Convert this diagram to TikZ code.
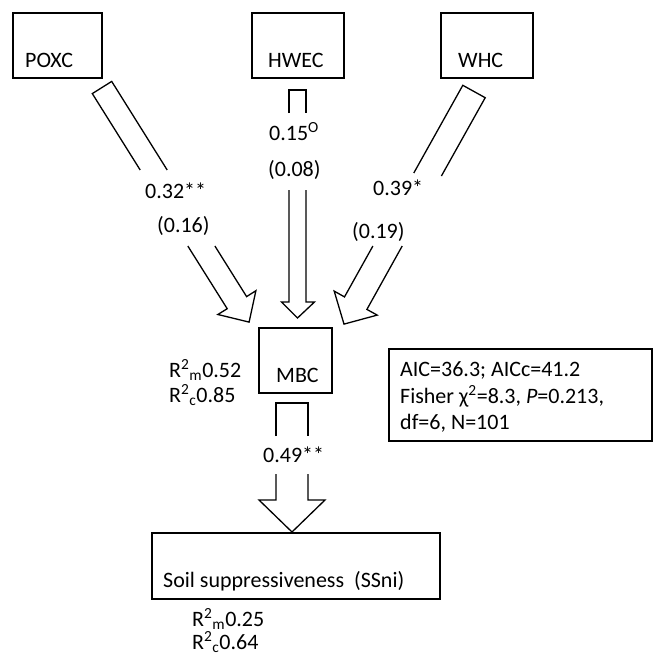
\documentclass[tikz,border=0pt]{standalone}
\usepackage{fontspec}
\setmainfont{Carlito}
\begin{document}
\begin{tikzpicture}[x=1pt,y=-1pt,
  box/.style={draw,line width=1.3pt,inner sep=0pt},
  lbl/.style={anchor=base west,inner sep=0pt,font=\fontsize{22}{26}\selectfont},
  arr/.style={draw,line width=1.3pt,line join=miter}]
\useasboundingbox (0,0) rectangle (654,657);
% boxes
\draw[box] (13,13) rectangle (102,78);
\node[box,draw=none,minimum width=89pt,minimum height=65pt] (poxc) at (57.5,45.5) {};
\node[lbl] (poxct) at (25,67) {POXC};
\draw[box] (252,13) rectangle (344,78);
\node[box,draw=none,minimum width=92pt,minimum height=65pt] (hwec) at (298,45.5) {};
\node[lbl] (hwect) at (268,67) {HWEC};
\draw[box] (441,13) rectangle (533,78);
\node[box,draw=none,minimum width=92pt,minimum height=65pt] (whc) at (487,45.5) {};
\node[lbl] (whct) at (458,67) {WHC};
\draw[box] (259,328) rectangle (332,393);
\node[box,draw=none,minimum width=73pt,minimum height=65pt] (mbc) at (295.5,360.5) {};
\node[lbl] (mbct) at (276,382) {MBC};
\draw[box] (152,533) rectangle (440,599);
\node[box,draw=none,minimum width=288pt,minimum height=66pt] (ss) at (296,566) {};
\node[lbl] (sst) at (163,587) {Soil suppressiveness\ \ (SSni)};
\draw[box] (389,349) rectangle (652,441);
\node[lbl] (st1) at (400,376) {AIC=36.3; AICc=41.2};
\node[lbl] (st2) at (400,403) {Fisher χ\textsuperscript{2}=8.3, \textit{P}=0.213,};
\node[lbl] (st3) at (400,429) {df=6, N=101};
% R2 labels
\node[lbl] (r1) at (169,377) {R\textsuperscript{2}\textsubscript{m}0.52};
\node[lbl] (r2) at (169,402) {R\textsuperscript{2}\textsubscript{c}0.85};
\node[lbl] (r3) at (192,626) {R\textsuperscript{2}\textsubscript{m}0.25};
\node[lbl] (r4) at (192,649) {R\textsuperscript{2}\textsubscript{c}0.64};
% coefficient labels
\node[lbl] (c1) at (145,198) {0.32**};
\node[lbl] (c1s) at (157,232) {(0.16)};
\node[lbl] (c2) at (269,140) {0.15\textsuperscript{O}};
\node[lbl] (c2s) at (268,176) {(0.08)};
\node[lbl] (c3) at (373,195) {0.39*};
\node[lbl] (c3s) at (352,238) {(0.19)};
\node[lbl] (c4) at (263,462) {0.49**};
% block arrows (outlines, interrupted by the coefficient labels)
% POXC -> MBC
\draw[arr] (140.2,170) -- (92.3,93.6) -- (111.7,81.4) -- (167.2,170);
\draw[arr] (187.8,246) -- (227.2,308.7) -- (217.9,314.5) -- (249.1,322.1) -- (255.9,290.7) -- (246.6,296.6) -- (214.9,246);
% HWEC -> MBC
\draw[arr] (289,113) -- (289,90) -- (306,90) -- (306,113);
\draw[arr] (289,190) -- (289,302) -- (281.5,302) -- (297.5,318) -- (314.5,302) -- (306,302) -- (306,190);
% WHC -> MBC
\draw[arr] (413.8,173) -- (462.8,85.3) -- (485.2,97.7) -- (441.4,176);
\draw[arr] (372.9,246) -- (344.5,296.9) -- (334.2,291.1) -- (344.0,324.1) -- (377.2,315.1) -- (366.9,309.4) -- (402.2,246);
% MBC -> SSni
\draw[arr] (276,436) -- (276,403) -- (308,403) -- (308,436);
\draw[arr] (276,474) -- (276,500) -- (259,500) -- (292,532) -- (325,500) -- (308,500) -- (308,474);
\end{tikzpicture}
\end{document}
